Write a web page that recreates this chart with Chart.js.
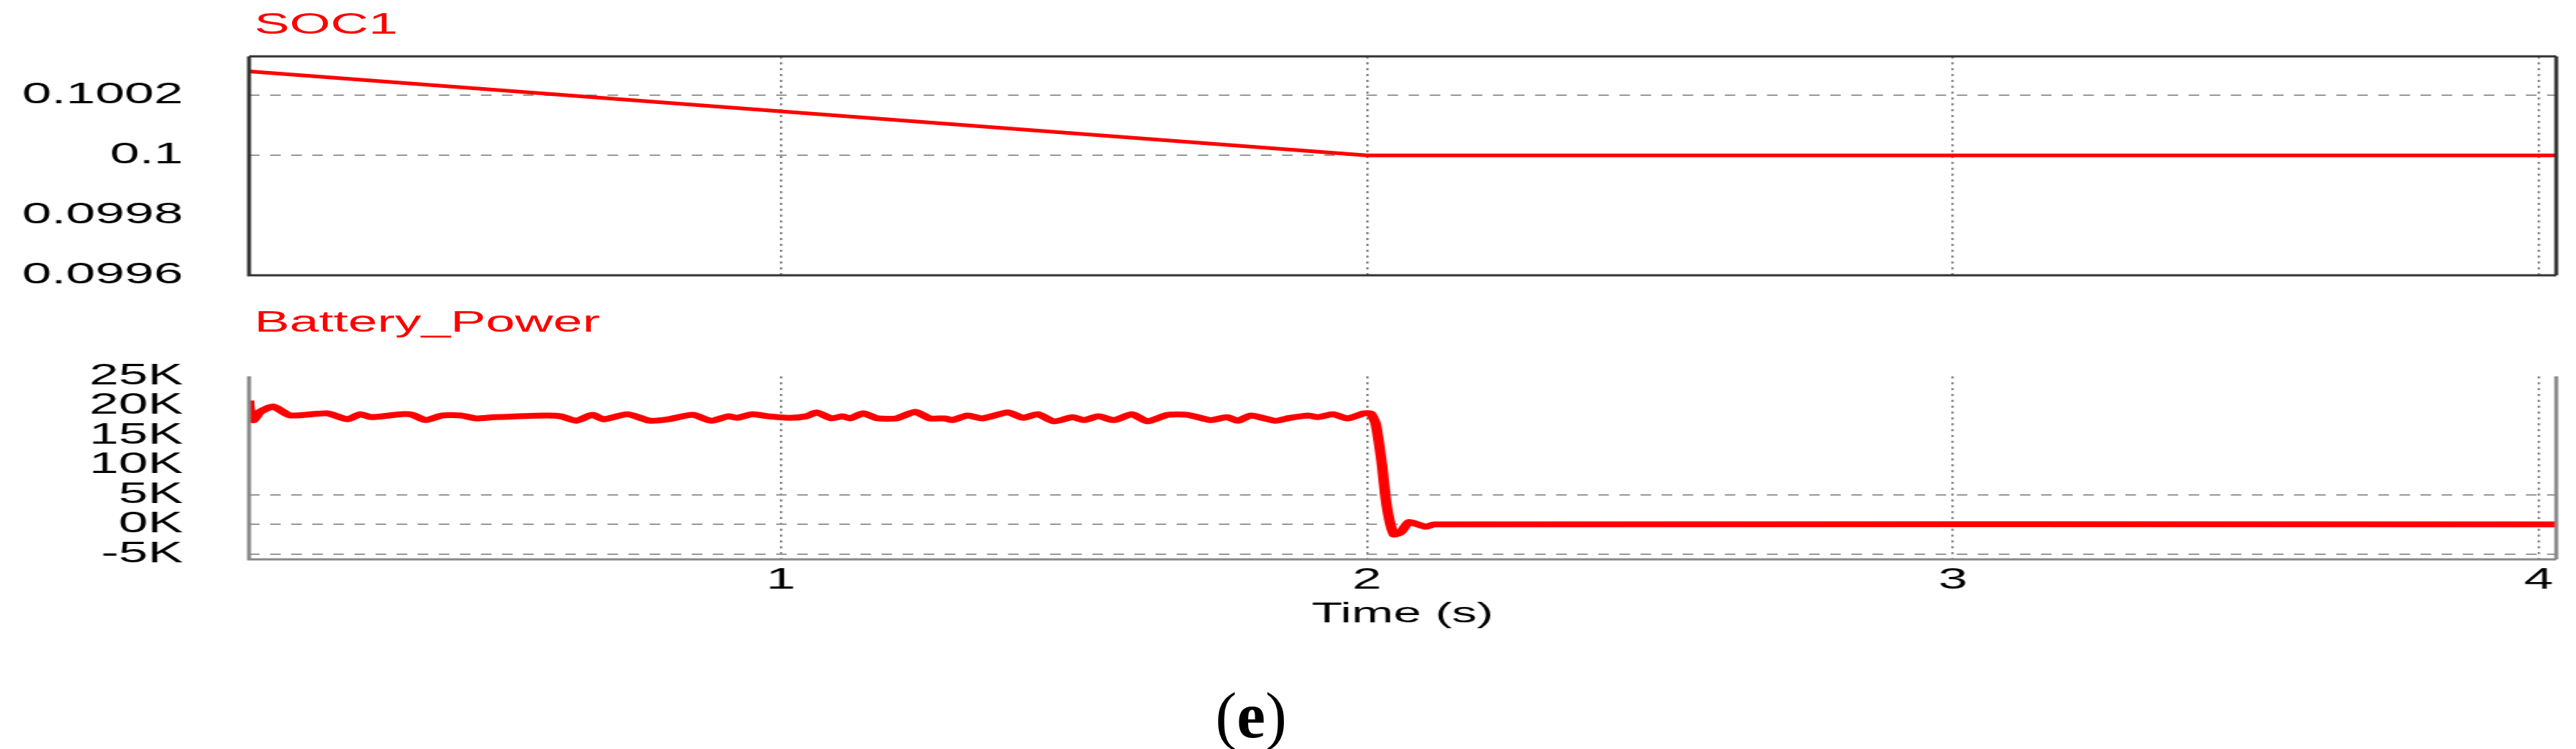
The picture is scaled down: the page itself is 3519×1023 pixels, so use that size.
<!DOCTYPE html>
<html>
<head>
<meta charset="utf-8">
<script src="https://cdn.jsdelivr.net/npm/chart.js@4.4.1/dist/chart.umd.min.js"></script>
<style>
  html, body { margin: 0; padding: 0; background: #fff; }
  body { width: 3519px; height: 1023px; position: relative; overflow: hidden; }
  #stage { position: absolute; left: 0; top: 0; width: 1955px; height: 1023px; transform: scaleX(1.8); transform-origin: 0 0; }
  .ttl { position: absolute; left: 193px; color: #ff0000; font: 40px "Liberation Sans", Arial, sans-serif; line-height: 40px; }
  #topWrap { position: absolute; left: 0; top: 0; width: 1955px; height: 450px; }
  #botWrap { position: absolute; left: 0; top: 440px; width: 1955px; height: 436px; }
  #caption { position: absolute; left: 1709px; top: 977px; transform: translate(-50%, -50%); font: 88px "Liberation Serif", serif; color: #000; }
</style>
</head>
<body>
<div id="stage">
  <div class="ttl" style="top:12px">SOC1</div>
  <div class="ttl" style="top:419px">Battery_Power</div>
  <div id="topWrap"><canvas id="socChart"></canvas></div>
  <div id="botWrap"><canvas id="powerChart"></canvas></div>
</div>
<div id="caption">(<b>e</b>)</div>
<script>
// --- Data ---
const timeRange = [0.092, 4.03];
const timeTicks = [1, 2, 3, 4];

const socTime = [0.092, 2.0, 4.03];
const socValues = [0.10028, 0.1, 0.1];
const socTicks = [0.0996, 0.0998, 0.1, 0.1002];
const socTickLabels = ['0.0996', '0.0998', '0.1', '0.1002'];
const socGridAt = [0.1, 0.1002];

const powerTime = [
  0.092, 0.093, 0.099, 0.111, 0.133, 0.162, 0.225, 0.260, 0.282, 0.301, 0.352, 0.371, 0.393, 0.422,
  0.453, 0.479, 0.510, 0.599, 0.624, 0.650, 0.678, 0.697, 0.738, 0.776, 0.808, 0.849, 0.881, 0.910,
  0.925, 0.951, 0.979, 1.014, 1.043,
  1.061, 1.086, 1.105, 1.118, 1.140, 1.165, 1.197, 1.229, 1.254, 1.280, 1.292, 1.318, 1.343, 1.387,
  1.413, 1.438, 1.466, 1.498, 1.517, 1.542, 1.568, 1.599, 1.625, 1.660, 1.694, 1.733, 1.761, 1.780,
  1.802, 1.843, 1.869, 1.900, 1.916, 1.942, 1.967, 1.995, 2.006,
  2.015, 2.025, 2.034, 2.046, 2.058, 2.072, 2.100, 2.115, 4.03
];
const powerValues = [
  20900, 19500, 17600, 19000, 19900, 18400, 18750, 17750, 18600, 18100, 18600, 18500, 17600, 18400,
  18400, 17900, 18100, 18400, 18250, 17500, 18500, 17750, 18600, 17500, 17750, 18500, 17500, 18250,
  18000, 18600, 18250, 18000, 18250,
  18900, 17900, 18250, 17900, 18750, 17900, 17900, 19000, 17900, 17900, 17600, 18400, 17900, 18900,
  18000, 18600, 17400, 18100, 17600, 18250, 17600, 18600, 17400, 18500, 18500, 17600, 18100, 17500,
  18400, 17500, 18000, 18400, 18100, 18600, 17900, 18750, 18750,
  17000, 10600, 3000, -1700, -1300, 400, -400, 0, 0
];
const powerTicks = [-5000, 0, 5000, 10000, 15000, 20000, 25000];
const powerTickLabels = ['-5K', '0K', '5K', '10K', '15K', '20K', '25K'];
const powerGridAt = [-5000, 0, 5000];

// --- Shared styles ---
const RED = '#ff0000';
const TICK_FONT = { family: '"Liberation Sans", Arial, sans-serif', size: 40 };
const AXIS_LEFT = 189;

// Frame drawn around the plot area (top chart: full box, bottom chart: L + right)
const framePlugin = {
  id: 'frame',
  afterDraw(chart, args, opts) {
    const a = chart.chartArea;
    const ctx = chart.ctx;
    ctx.save();
    ctx.strokeStyle = opts.color;
    ctx.lineWidth = opts.width;
    ctx.beginPath();
    if (opts.top) { ctx.moveTo(a.left, a.top); ctx.lineTo(a.right, a.top); }
    ctx.moveTo(a.left, a.top); ctx.lineTo(a.left, a.bottom); ctx.lineTo(a.right, a.bottom);
    ctx.moveTo(a.right, a.top); ctx.lineTo(a.right, a.bottom);
    ctx.stroke();
    ctx.restore();
  }
};

function xScale(showLabels, height) {
  return {
    type: 'linear', min: timeRange[0], max: timeRange[1],
    afterBuildTicks: s => { s.ticks = timeTicks.map(v => ({ value: v })); },
    afterFit: s => { s.height = height; },
    border: { display: false, dash: [3, 5] },
    grid: { color: '#777', lineWidth: 1.5, drawTicks: false },
    ticks: { display: showLabels, autoSkip: false, color: '#000', font: TICK_FONT, padding: 5, maxRotation: 0, callback: v => String(v) },
    title: showLabels
      ? { display: true, text: 'Time (s)', color: '#000', font: { family: TICK_FONT.family, size: 38 }, padding: { top: 0, bottom: 14 } }
      : { display: false }
  };
}

function yScale(min, max, ticks, labels, gridAt) {
  return {
    type: 'linear', min: min, max: max,
    afterBuildTicks: s => { s.ticks = ticks.map(v => ({ value: v })); },
    afterFit: s => { s.width = AXIS_LEFT; },
    border: { display: false, dash: [8, 8] },
    grid: {
      drawTicks: false, lineWidth: 2,
      color: c => gridAt.some(g => Math.abs(g - c.tick.value) < 1e-9) ? '#999' : 'rgba(0,0,0,0)'
    },
    ticks: {
      autoSkip: false, color: '#000', font: TICK_FONT, padding: 50,
      callback: (v, i) => labels[i]
    }
  };
}

new Chart(document.getElementById('socChart'), {
  type: 'line',
  data: {
    datasets: [{
      data: socTime.map((t, i) => ({ x: t, y: socValues[i] })),
      borderColor: RED, borderWidth: 5, pointRadius: 0, tension: 0
    }]
  },
  options: {
    responsive: true, maintainAspectRatio: false, animation: false,
    layout: { padding: { top: 77, right: 15, left: 0, bottom: 0 } },
    plugins: { legend: { display: false }, tooltip: { enabled: false }, frame: { color: '#333', width: 3, top: true } },
    scales: {
      x: xScale(false, 25),
      y: yScale(0.0996, 0.10033, socTicks, socTickLabels, socGridAt)
    }
  },
  plugins: [framePlugin]
});

new Chart(document.getElementById('powerChart'), {
  type: 'line',
  data: {
    datasets: [{
      data: powerTime.map((t, i) => ({ x: t, y: powerValues[i] })),
      borderColor: RED, borderWidth: 8, pointRadius: 0, tension: 0.2, borderJoinStyle: 'round'
    }]
  },
  options: {
    responsive: true, maintainAspectRatio: false, animation: false,
    layout: { padding: { top: 18, right: 15, left: 0, bottom: 0 } },
    plugins: { legend: { display: false }, tooltip: { enabled: false }, frame: { color: '#888', width: 3, top: false } },
    scales: {
      x: xScale(true, 112),
      y: yScale(-5900, 25000, powerTicks, powerTickLabels, powerGridAt)
    }
  },
  plugins: [framePlugin]
});
</script>
</body>
</html>
